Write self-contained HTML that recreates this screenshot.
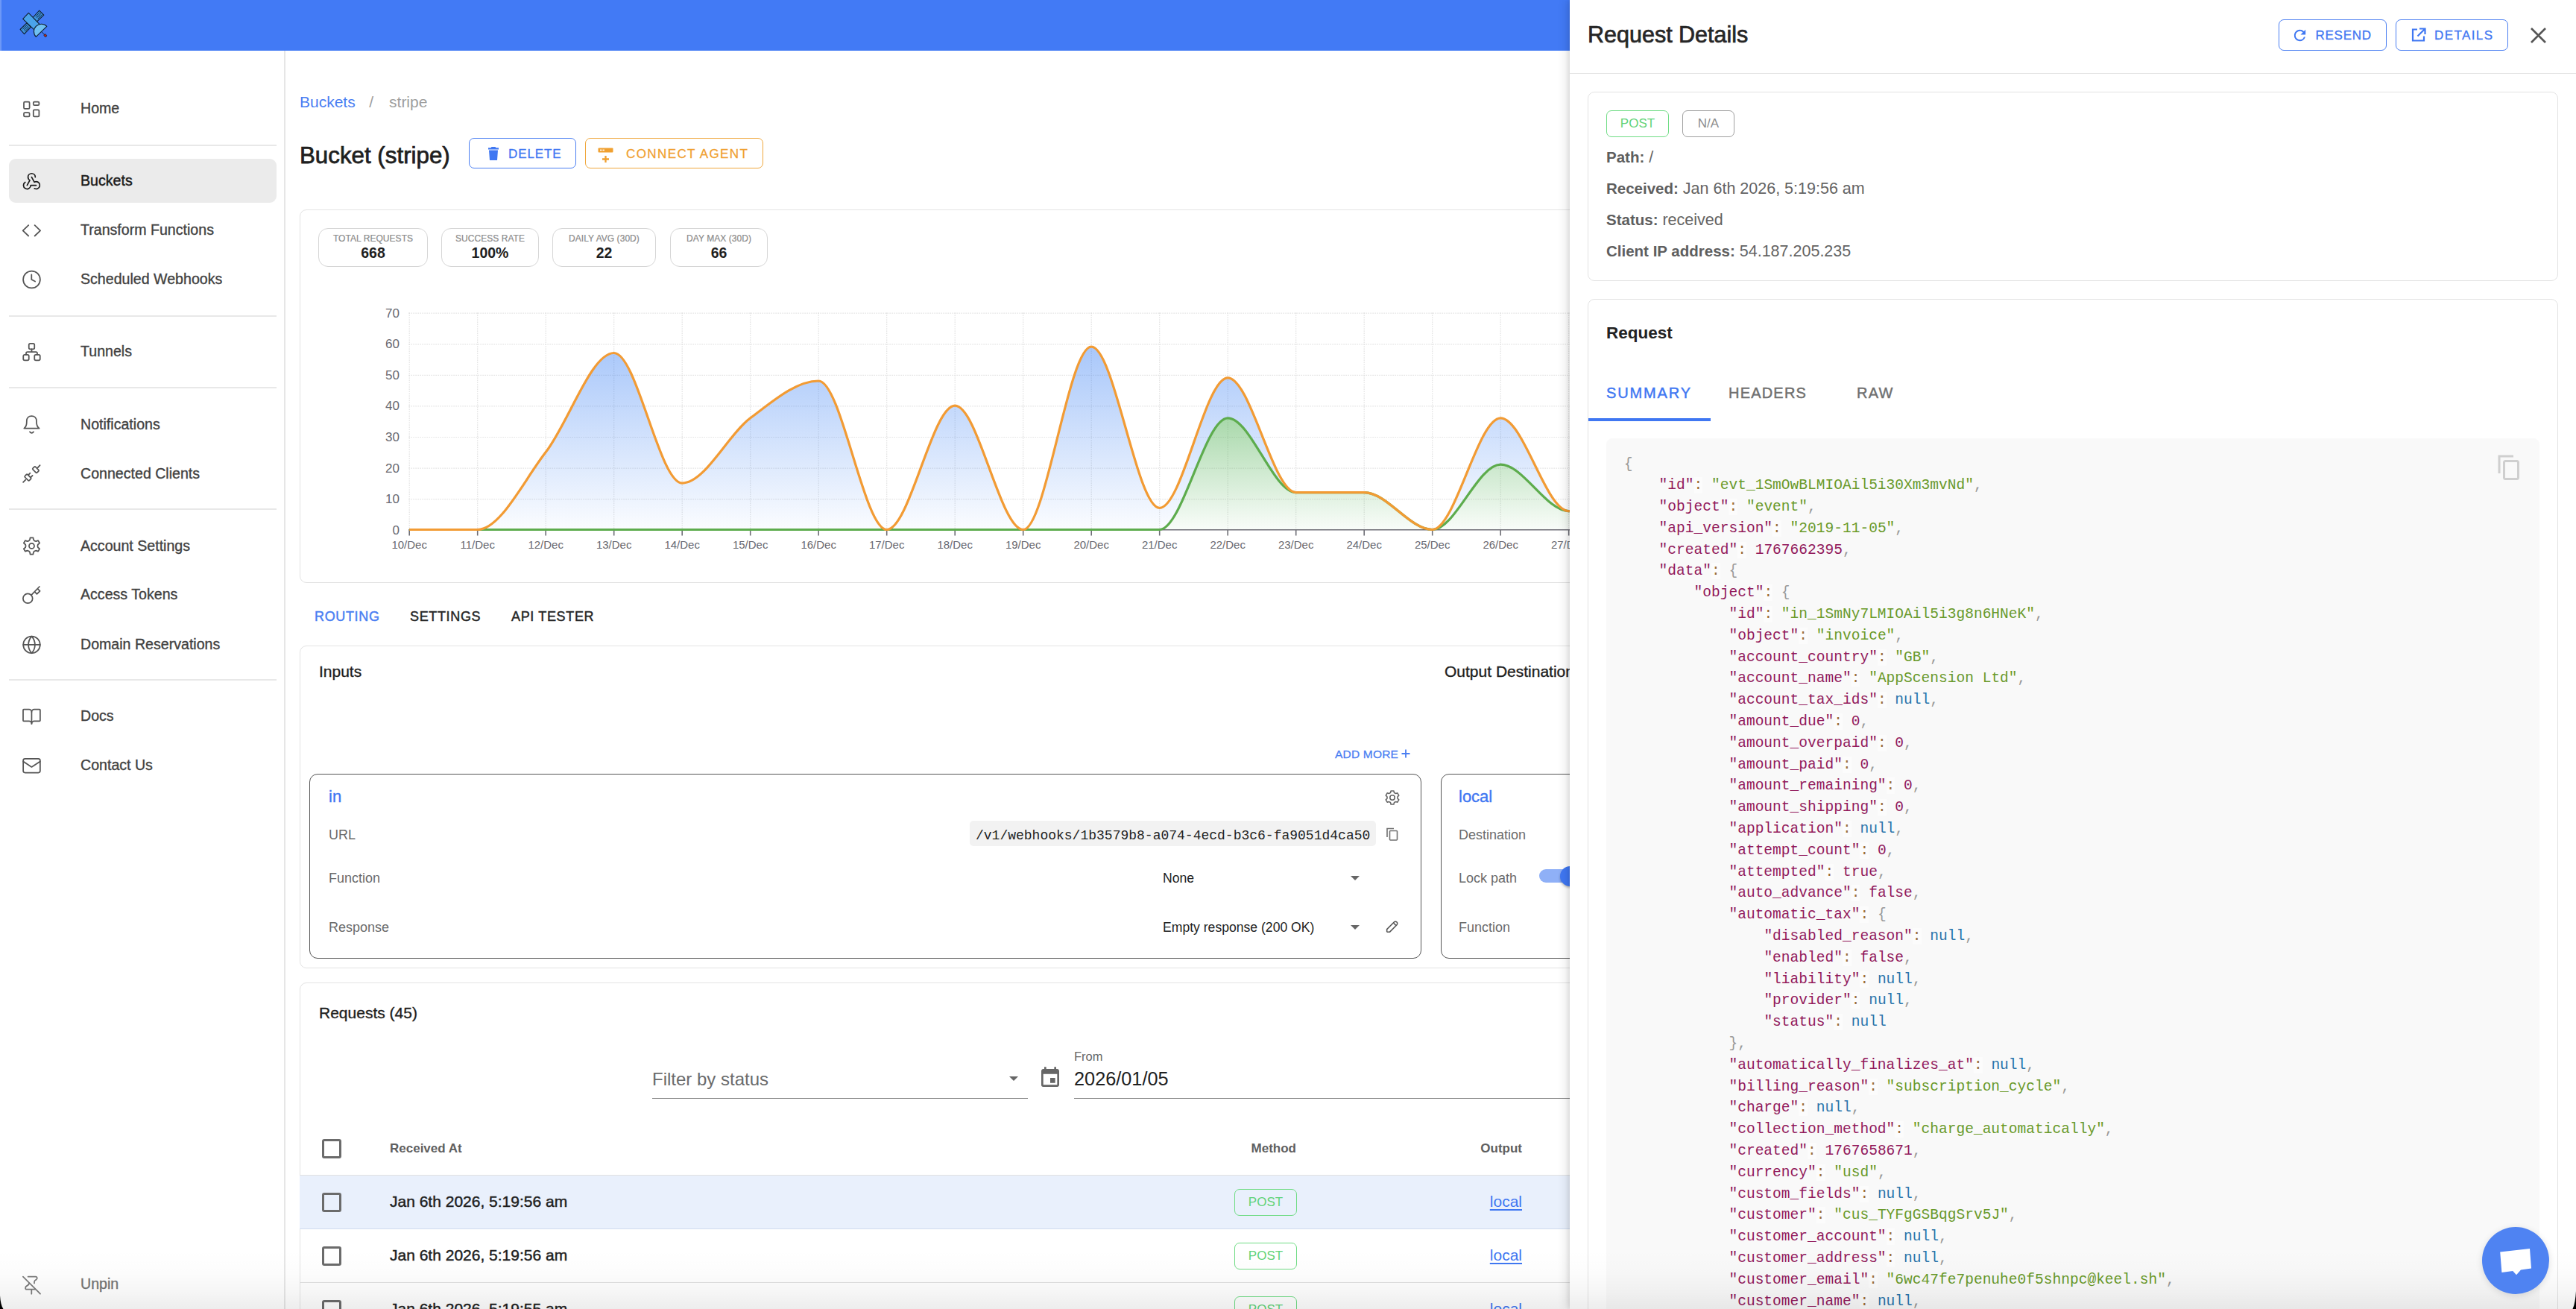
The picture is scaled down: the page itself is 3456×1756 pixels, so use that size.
<!DOCTYPE html>
<html><head><meta charset="utf-8">
<style>
*{box-sizing:border-box;margin:0;padding:0}
html,body{width:3456px;height:1756px;overflow:hidden;background:#fff}
body{font-family:"Liberation Sans",sans-serif;color:#212121;position:relative}
.abs{position:absolute}
#topbar{position:absolute;left:0;top:0;width:2110px;height:68px;background:#427af5}
#topbar .edge{position:absolute;left:0;top:0;width:2px;height:68px;background:#6d98f7}
#sidebar{position:absolute;left:0;top:68px;width:383px;height:1688px;background:#fff;border-right:2px solid #e6e6e6}
.nav{position:absolute;left:12px;width:359px;height:59px;border-radius:9px;font-size:19.6px;color:#424242;white-space:nowrap}
.nav.sel{background:#ebebeb}
.nav svg{position:absolute;left:10px;top:9.5px;width:40px;height:40px;fill:none;stroke:#555;stroke-width:1.75;stroke-linecap:round;stroke-linejoin:round}
.nav svg g{stroke-width:1.4}
.nav span{position:absolute;left:96px;top:-0.7px;line-height:59px;-webkit-text-stroke:0.35px currentColor}
.nav.sel{color:#1c1c1c}.nav.sel svg{stroke:#1a1a1a}.nav.sel span{-webkit-text-stroke:0.45px currentColor}
.div{position:absolute;left:12px;width:359px;height:2px;background:#e8e8e8}

.btn{border:1.5px solid;border-radius:7px;font-size:17px;letter-spacing:1px;white-space:nowrap;-webkit-text-stroke:0.3px currentColor}
.card{border:1.5px solid #e3e3e3;border-radius:9px;background:#fff}
.stat{height:52px;border:1.5px solid #d6d6d6;border-radius:13px;text-align:center}
.stat .sl{font-size:12px;line-height:14px;margin-top:6px;color:#8a8a8a;letter-spacing:0.05px;white-space:nowrap;-webkit-text-stroke:0.2px #8a8a8a}
.stat .sv{font-size:19.5px;line-height:22px;font-weight:bold;color:#1f1f1f;margin-top:1px}
.tab{font-size:18px;line-height:22px;letter-spacing:0.65px;color:#262626;white-space:nowrap;-webkit-text-stroke:0.45px currentColor}
.h5{font-size:21px;line-height:24px;color:#1f1f1f;white-space:nowrap;-webkit-text-stroke:0.35px #1f1f1f}
.ibox{border:1.5px solid #555;border-radius:11px;background:#fff;overflow:hidden}
.lbl{font-size:18px;line-height:22px;color:#6b6b6b;white-space:nowrap}
.val{font-size:17.6px;line-height:22px;color:#222;white-space:nowrap}
.mono{font-family:"Liberation Mono",monospace;font-size:18px;line-height:22px;color:#222;white-space:nowrap}
.caret{width:0;height:0;border-left:6px solid transparent;border-right:6px solid transparent;border-top:6px solid #666}
.cb{width:26px;height:26px;border:3px solid #6b6b6b;border-radius:3px}
.th{font-size:17px;line-height:20px;font-weight:bold;color:#5f5f5f;white-space:nowrap}
.td{font-size:21px;line-height:24px;color:#1f1f1f;white-space:nowrap;-webkit-text-stroke:0.45px #1f1f1f}
.chip{width:84px;height:36px;border:1.5px solid #6fdc84;border-radius:7px;color:#5fd377;font-size:17px;line-height:33px;text-align:center}
.lnk{width:142px;text-align:right;font-size:21px;line-height:24px;color:#3f77f2;text-decoration:underline;text-underline-offset:3px}

#drawer{position:absolute;left:2106px;top:0;width:1350px;height:1756px;background:#fff;box-shadow:-5px 0 12px rgba(0,0,0,0.10),-2px 0 5px rgba(0,0,0,0.07)}
.info{font-size:21.5px;line-height:26px;color:#646464;white-space:nowrap}
.info b{color:#5e5e5e;font-size:20.5px}
.dtab{font-size:20px;line-height:24px;letter-spacing:1.2px;color:#707070;white-space:nowrap;-webkit-text-stroke:0.45px currentColor}
#codebg{background:#f9f9f9}
.code{font-family:"Liberation Mono",monospace;font-size:19.56px;line-height:28.8px;color:#000;white-space:pre}
.code i{font-style:normal}
.code .p{color:#999}.code .k{color:#921a5c}.code .s{color:#6a9a2a}.code .n{color:#921a5c}.code .u{color:#2a74aa}
.code .o{color:#9a6e3a;background:rgba(255,255,255,.5)}
#fade{position:absolute;left:0;top:1676px;width:3456px;height:80px;background:linear-gradient(to bottom,rgba(0,0,0,0) 0%,rgba(0,0,0,0.012) 40%,rgba(0,0,0,0.035) 70%,rgba(0,0,0,0.07) 100%);pointer-events:none}
</style></head>
<body>
<div id="topbar"><div class="edge"></div>
<svg class="abs" style="left:20px;top:8px" width="50" height="50" viewBox="0 0 50 50">
 <g stroke="#0f1e2e" stroke-width="1.1" stroke-linejoin="round">
  <polygon points="32.7,6.1 38.8,12.2 29.4,21.1 24.1,15.5" fill="#3f93dd"/>
  <polygon points="15.9,22.9 21.4,28.3 12.6,37.6 7.1,31.5" fill="#3f93dd"/>
  <g stroke-width="0.9" stroke="#0b1622"><path d="M27.8,14.3 L33.6,8.6 M29.3,15.8 L35.1,10.1 M30.8,17.3 L36.6,11.6" /><path d="M10.6,31.0 L16.4,25.3 M12.1,32.5 L17.9,26.8 M13.6,34.0 L19.4,28.3"/></g>
  <polygon points="18.3,9.4 10.7,17.4 26,32.2 33.2,24.6" fill="#4aa3ea"/>
  <path d="M28.3,41.4 L42.8,27.3 A10.1,10.1 0 0 0 28.3,41.4 Z" fill="#6fc0f2"/>
  <path d="M35.5,34.4 L40.6,39.4" stroke-width="0.9"/>
  <ellipse cx="40.8" cy="39.6" rx="2" ry="1.6" transform="rotate(45 40.8 39.6)" fill="#b8281c" stroke-width="0.7"/>
 </g>
</svg>
</div>

<div id="sidebar">
 <!-- items: top positions are relative to sidebar (page y - 68) -->
 <div class="nav" style="top:49px"><svg viewBox="0 0 40 40"><rect x="10" y="9.6" width="7.6" height="9.3" rx="1.4"/><rect x="10" y="24" width="7.6" height="5.3" rx="1.4"/><rect x="22.8" y="9.6" width="7.6" height="4.6" rx="1.4"/><rect x="22.8" y="20.3" width="7.6" height="9" rx="1.4"/></svg><span>Home</span></div>
 <div class="div" style="top:125.5px"></div>
 <div class="nav sel" style="top:145.4px"><svg viewBox="0 0 40 40"><g transform="translate(20.45 20.1) scale(1.22) translate(-12 -12.5)"><path d="M4.876 13.61a4 4 0 1 0 6.124 3.39h6"/><path d="M15.066 20.502a4 4 0 1 0 1.934 -7.502c-.706 0 -1.424 .179 -2 .5l-3 -5.5"/><path d="M16 8a4 4 0 1 0 -8 0c0 1.506 .77 2.818 2 3.5l-3 5.5"/></g></svg><span>Buckets</span></div>
 <div class="nav" style="top:211.6px"><svg viewBox="0 0 40 40"><path d="M16.2 13.1L8.7 20.3L16.2 27.5M24.6 13.1L32.1 20.3L24.6 27.5"/></svg><span>Transform Functions</span></div>
 <div class="nav" style="top:277.7px"><svg viewBox="0 0 40 40"><circle cx="20.5" cy="20" r="11.4"/><path d="M20.3 13.3V20l4.8 2.6"/></svg><span>Scheduled Webhooks</span></div>
 <div class="div" style="top:354.5px"></div>
 <div class="nav" style="top:374.7px"><svg viewBox="0 0 40 40"><g transform="translate(20.5 20) scale(1.25) translate(-12 -12)"><path d="M3 15m0 1.5a1.5 1.5 0 0 1 1.5 -1.5h3a1.5 1.5 0 0 1 1.5 1.5v3a1.5 1.5 0 0 1 -1.5 1.5h-3a1.5 1.5 0 0 1 -1.5 -1.5z"/><path d="M15 15m0 1.5a1.5 1.5 0 0 1 1.5 -1.5h3a1.5 1.5 0 0 1 1.5 1.5v3a1.5 1.5 0 0 1 -1.5 1.5h-3a1.5 1.5 0 0 1 -1.5 -1.5z"/><path d="M9 3m0 1.5a1.5 1.5 0 0 1 1.5 -1.5h3a1.5 1.5 0 0 1 1.5 1.5v3a1.5 1.5 0 0 1 -1.5 1.5h-3a1.5 1.5 0 0 1 -1.5 -1.5z"/><path d="M6 15v-1.5a1.5 1.5 0 0 1 1.5 -1.5h9a1.5 1.5 0 0 1 1.5 1.5v1.5"/><path d="M12 9l0 3"/></g></svg><span>Tunnels</span></div>
 <div class="div" style="top:451.2px"></div>
 <div class="nav" style="top:472.2px"><svg viewBox="0 0 40 40"><path d="M10.3 24.6C12.8 22.6 13.8 19.8 13.8 16.2V14.8C13.8 10.6 16.6 8 20.4 8C24.2 8 27 10.6 27 14.8V16.2C27 19.8 28 22.6 30.6 24.6Z"/><path d="M18 29.3C19.4 31.3 21.6 31.3 23 29.3"/></svg><span>Notifications</span></div>
 <div class="nav" style="top:538.3px"><svg viewBox="0 0 40 40"><rect x="-4" y="-2.5" width="8" height="5" rx="1.2" transform="translate(25.9 14.1) rotate(45)"/><path d="M28.6 11.4L31.6 8.1"/><rect x="-4.2" y="-2.5" width="8.4" height="5" rx="1.2" transform="translate(15.4 24.6) rotate(45)"/><path d="M12.3 27.6L9.1 30.9M15.9 21.3L18.4 18.6M19.1 24.6L21.6 21.9"/></svg><span>Connected Clients</span></div>
 <div class="div" style="top:614.3px"></div>
 <div class="nav" style="top:635.4px"><svg viewBox="0 0 40 40"><path d="M16.55 12.56 L17.99 11.18 L18.54 8.27 L22.46 8.27 L23.01 11.18 L24.45 12.56 L26.37 13.11 L29.16 12.14 L31.12 15.54 L28.88 17.47 L28.40 19.40 L28.88 21.33 L31.12 23.26 L29.16 26.66 L26.37 25.69 L24.45 26.24 L23.01 27.62 L22.46 30.53 L18.54 30.53 L17.99 27.62 L16.55 26.24 L14.63 25.69 L11.84 26.66 L9.88 23.26 L12.12 21.33 L12.60 19.40 L12.12 17.47 L9.88 15.54 L11.84 12.14 L14.63 13.11Z"/><circle cx="20.5" cy="19.4" r="3.5"/></svg><span>Account Settings</span></div>
 <div class="nav" style="top:701.1px"><svg viewBox="0 0 40 40"><circle cx="15.3" cy="23.8" r="6.4"/><path d="M19.9 19.3L30.9 8M24.5 14.8L27.5 17.9L31.6 13.8L28.5 10.8"/></svg><span>Access Tokens</span></div>
 <div class="nav" style="top:767.2px"><svg viewBox="0 0 40 40"><circle cx="20.5" cy="19.9" r="11.3"/><path d="M9.2 19.9H31.8"/><path d="M20.5 8.6C18 11.5 16.1 15.2 16.1 19.9C16.1 24.6 18 28.3 20.5 31.2C23 28.3 24.9 24.6 24.9 19.9C24.9 15.2 23 11.5 20.5 8.6Z"/></svg><span>Domain Reservations</span></div>
 <div class="div" style="top:842.9px"></div>
 <div class="nav" style="top:864.1px"><svg viewBox="0 0 40 40"><g transform="translate(20.45 9.6) scale(0.11) translate(-128 -56)" style="stroke-width:15.5"><path d="M128,88a32,32,0,0,1,32-32h64a8,8,0,0,1,8,8V192a8,8,0,0,1-8,8H160a32,32,0,0,0-32,32"/><path d="M24,192a8,8,0,0,0,8,8H96a32,32,0,0,1,32,32V88A32,32,0,0,0,96,56H32a8,8,0,0,0-8,8Z"/></g></svg><span>Docs</span></div>
 <div class="nav" style="top:929.8px"><svg viewBox="0 0 40 40"><rect x="9.15" y="10.8" width="22.7" height="18.7" rx="2.4"/><path d="M9.2 14.6L20.4 21.9L31.8 14.6"/></svg><span>Contact Us</span></div>
 <div class="nav" style="top:1626px;color:#757575"><svg viewBox="0 0 40 40" style="stroke:#7a7a7a"><path d="M8.9 8.6L32 31.7M15.6 8.7H26C27.8 8.7 28.4 11 27 12.2L24.8 13.9C24.2 14.4 24 15.2 24 16V17.4M17.1 17.1C17 19.3 15.5 20.3 13.8 21.1C11.8 22.1 11.3 25.7 13.8 25.7H25.3M20.3 25.7V31.7"/></svg><span>Unpin</span></div>
</div>

<div id="main">
 <!-- breadcrumb -->
 <div class="abs" style="left:402px;top:123px;font-size:21px;line-height:28px;white-space:nowrap"><span style="color:#4a7ef2">Buckets</span><span style="color:#9e9e9e;margin-left:18.5px">/</span><span style="color:#9e9e9e;margin-left:21px">stripe</span></div>
 <div class="abs" style="left:402px;top:190px;font-size:31.3px;line-height:38px;color:#1f1f1f;white-space:nowrap;-webkit-text-stroke:0.75px #1f1f1f">Bucket (stripe)</div>
 <div class="abs btn" style="left:629px;top:185px;width:144px;height:41px;border-color:#4a7ef2;color:#3f77f2">
  <svg class="abs" style="left:25px;top:11px" width="14" height="18" viewBox="0 0 14 18"><path d="M4.5 0h5l1 1.2H14v2.3H0V1.2h3.5z M1 4.6h12L12 18H2z" fill="#3f77f2"/></svg>
  <span class="abs" style="left:52px;top:0;line-height:41px;letter-spacing:0.9px">DELETE</span></div>
 <div class="abs btn" style="left:785px;top:185px;width:239px;height:41px;border-color:#f0a73c;color:#f0a030">
  <svg class="abs" style="left:16px;top:12px" width="22" height="21" viewBox="0 0 22 21"><rect x="0.5" y="0.5" width="20" height="6" rx="1" fill="#f0a030"/><rect x="3" y="2.6" width="2.4" height="1.6" fill="#fff"/><rect x="6.5" y="2.6" width="2.4" height="1.6" fill="#fff"/><path d="M10.5 11v9M6 15.5h9" stroke="#f0a030" stroke-width="2.3"/></svg>
  <span class="abs" style="left:54px;top:0;line-height:41px;letter-spacing:1.4px">CONNECT AGENT</span></div>

 <!-- stats card -->
 <div class="abs card" style="left:402px;top:281px;width:1800px;height:501px"></div>
 <div class="abs stat" style="left:427px;top:306px;width:147px"><div class="sl">TOTAL REQUESTS</div><div class="sv">668</div></div>
 <div class="abs stat" style="left:592px;top:306px;width:131px"><div class="sl">SUCCESS RATE</div><div class="sv">100%</div></div>
 <div class="abs stat" style="left:741px;top:306px;width:139px"><div class="sl">DAILY AVG (30D)</div><div class="sv">22</div></div>
 <div class="abs stat" style="left:899px;top:306px;width:131px"><div class="sl">DAY MAX (30D)</div><div class="sv">66</div></div>
 <svg class="abs" style="left:0;top:0" width="2110" height="800" viewBox="0 0 2110 800">
<defs><linearGradient id="gb" gradientUnits="userSpaceOnUse" x1="0" y1="430" x2="0" y2="712"><stop offset="0" stop-color="#4285f4" stop-opacity="0.52"/><stop offset="1" stop-color="#4285f4" stop-opacity="0.02"/></linearGradient>
<linearGradient id="gg" gradientUnits="userSpaceOnUse" x1="0" y1="555" x2="0" y2="712"><stop offset="0" stop-color="#4caf50" stop-opacity="0.5"/><stop offset="1" stop-color="#4caf50" stop-opacity="0.03"/></linearGradient></defs>
<g stroke="#d9d9d9" stroke-width="1.2" stroke-dasharray="1.2 1.8" fill="none">
<path d="M548.5,420.2H2110"/>
<path d="M548.5,461.8H2110"/>
<path d="M548.5,503.3H2110"/>
<path d="M548.5,544.9H2110"/>
<path d="M548.5,586.5H2110"/>
<path d="M548.5,628.1H2110"/>
<path d="M548.5,669.6H2110"/>
<path d="M549.2,419.5V710"/>
<path d="M640.7,419.5V710"/>
<path d="M732.2,419.5V710"/>
<path d="M823.7,419.5V710"/>
<path d="M915.2,419.5V710"/>
<path d="M1006.7,419.5V710"/>
<path d="M1098.2,419.5V710"/>
<path d="M1189.7,419.5V710"/>
<path d="M1281.2,419.5V710"/>
<path d="M1372.7,419.5V710"/>
<path d="M1464.2,419.5V710"/>
<path d="M1555.7,419.5V710"/>
<path d="M1647.2,419.5V710"/>
<path d="M1738.7,419.5V710"/>
<path d="M1830.2,419.5V710"/>
<path d="M1921.7,419.5V710"/>
<path d="M2013.2,419.5V710"/>
<path d="M2104.7,419.5V710"/>
</g>
<path d="M549.2,710.5C579.7,710.5 610.2,710.5 640.7,710.5C671.2,710.5 701.7,646.1 732.2,606.6C762.7,567.1 793.2,473.5 823.7,473.5C854.2,473.5 884.7,648.1 915.2,648.1C945.7,648.1 976.2,583.7 1006.7,560.8C1037.2,538.0 1067.7,511.0 1098.2,511.0C1128.7,511.0 1159.2,710.5 1189.7,710.5C1220.2,710.5 1250.7,544.2 1281.2,544.2C1311.7,544.2 1342.2,710.5 1372.7,710.5C1403.2,710.5 1433.7,465.2 1464.2,465.2C1494.7,465.2 1525.2,681.4 1555.7,681.4C1586.2,681.4 1616.7,506.8 1647.2,506.8C1677.7,506.8 1708.2,660.6 1738.7,660.6C1769.2,660.6 1799.7,660.6 1830.2,660.6C1860.7,660.6 1891.2,710.5 1921.7,710.5C1952.2,710.5 1982.7,560.8 2013.2,560.8C2043.7,560.8 2074.2,685.6 2104.7,685.6C2135.2,685.6 2165.7,674.5 2196.2,668.9C2226.7,663.4 2257.2,657.8 2287.7,652.3L2287.7,652.3C2257.2,657.8 2226.7,663.4 2196.2,668.9C2165.7,674.5 2135.2,685.6 2104.7,685.6C2074.2,685.6 2043.7,623.2 2013.2,623.2C1982.7,623.2 1952.2,710.5 1921.7,710.5C1891.2,710.5 1860.7,660.6 1830.2,660.6C1799.7,660.6 1769.2,660.6 1738.7,660.6C1708.2,660.6 1677.7,560.8 1647.2,560.8C1616.7,560.8 1586.2,710.5 1555.7,710.5C1525.2,710.5 1494.7,710.5 1464.2,710.5C1433.7,710.5 1403.2,710.5 1372.7,710.5C1342.2,710.5 1311.7,710.5 1281.2,710.5C1250.7,710.5 1220.2,710.5 1189.7,710.5C1159.2,710.5 1128.7,710.5 1098.2,710.5C1067.7,710.5 1037.2,710.5 1006.7,710.5C976.2,710.5 945.7,710.5 915.2,710.5C884.7,710.5 854.2,710.5 823.7,710.5C793.2,710.5 762.7,710.5 732.2,710.5C701.7,710.5 671.2,710.5 640.7,710.5C610.2,710.5 579.7,710.5 549.2,710.5Z" fill="url(#gb)"/>
<path d="M549.2,710.5C579.7,710.5 610.2,710.5 640.7,710.5C671.2,710.5 701.7,710.5 732.2,710.5C762.7,710.5 793.2,710.5 823.7,710.5C854.2,710.5 884.7,710.5 915.2,710.5C945.7,710.5 976.2,710.5 1006.7,710.5C1037.2,710.5 1067.7,710.5 1098.2,710.5C1128.7,710.5 1159.2,710.5 1189.7,710.5C1220.2,710.5 1250.7,710.5 1281.2,710.5C1311.7,710.5 1342.2,710.5 1372.7,710.5C1403.2,710.5 1433.7,710.5 1464.2,710.5C1494.7,710.5 1525.2,710.5 1555.7,710.5C1586.2,710.5 1616.7,560.8 1647.2,560.8C1677.7,560.8 1708.2,660.6 1738.7,660.6C1769.2,660.6 1799.7,660.6 1830.2,660.6C1860.7,660.6 1891.2,710.5 1921.7,710.5C1952.2,710.5 1982.7,623.2 2013.2,623.2C2043.7,623.2 2074.2,685.6 2104.7,685.6C2135.2,685.6 2165.7,674.5 2196.2,668.9C2226.7,663.4 2257.2,657.8 2287.7,652.3L2287.7,710.5L549.2,710.5Z" fill="url(#gg)"/>
<path d="M548.5,710.8H2110" stroke="#6e6e76" stroke-width="1.6"/>
<g stroke="#6e6e76" stroke-width="1.6">
<path d="M549.2,710V718.5"/>
<path d="M640.7,710V718.5"/>
<path d="M732.2,710V718.5"/>
<path d="M823.7,710V718.5"/>
<path d="M915.2,710V718.5"/>
<path d="M1006.7,710V718.5"/>
<path d="M1098.2,710V718.5"/>
<path d="M1189.7,710V718.5"/>
<path d="M1281.2,710V718.5"/>
<path d="M1372.7,710V718.5"/>
<path d="M1464.2,710V718.5"/>
<path d="M1555.7,710V718.5"/>
<path d="M1647.2,710V718.5"/>
<path d="M1738.7,710V718.5"/>
<path d="M1830.2,710V718.5"/>
<path d="M1921.7,710V718.5"/>
<path d="M2013.2,710V718.5"/>
<path d="M2104.7,710V718.5"/>
</g>
<path d="M549.2,710.5C579.7,710.5 610.2,710.5 640.7,710.5C671.2,710.5 701.7,710.5 732.2,710.5C762.7,710.5 793.2,710.5 823.7,710.5C854.2,710.5 884.7,710.5 915.2,710.5C945.7,710.5 976.2,710.5 1006.7,710.5C1037.2,710.5 1067.7,710.5 1098.2,710.5C1128.7,710.5 1159.2,710.5 1189.7,710.5C1220.2,710.5 1250.7,710.5 1281.2,710.5C1311.7,710.5 1342.2,710.5 1372.7,710.5C1403.2,710.5 1433.7,710.5 1464.2,710.5C1494.7,710.5 1525.2,710.5 1555.7,710.5C1586.2,710.5 1616.7,560.8 1647.2,560.8C1677.7,560.8 1708.2,660.6 1738.7,660.6C1769.2,660.6 1799.7,660.6 1830.2,660.6C1860.7,660.6 1891.2,710.5 1921.7,710.5C1952.2,710.5 1982.7,623.2 2013.2,623.2C2043.7,623.2 2074.2,685.6 2104.7,685.6C2135.2,685.6 2165.7,674.5 2196.2,668.9C2226.7,663.4 2257.2,657.8 2287.7,652.3" fill="none" stroke="#5dac4d" stroke-width="3.2" stroke-linejoin="round"/>
<path d="M549.2,710.5C579.7,710.5 610.2,710.5 640.7,710.5C671.2,710.5 701.7,646.1 732.2,606.6C762.7,567.1 793.2,473.5 823.7,473.5C854.2,473.5 884.7,648.1 915.2,648.1C945.7,648.1 976.2,583.7 1006.7,560.8C1037.2,538.0 1067.7,511.0 1098.2,511.0C1128.7,511.0 1159.2,710.5 1189.7,710.5C1220.2,710.5 1250.7,544.2 1281.2,544.2C1311.7,544.2 1342.2,710.5 1372.7,710.5C1403.2,710.5 1433.7,465.2 1464.2,465.2C1494.7,465.2 1525.2,681.4 1555.7,681.4C1586.2,681.4 1616.7,506.8 1647.2,506.8C1677.7,506.8 1708.2,660.6 1738.7,660.6C1769.2,660.6 1799.7,660.6 1830.2,660.6C1860.7,660.6 1891.2,710.5 1921.7,710.5C1952.2,710.5 1982.7,560.8 2013.2,560.8C2043.7,560.8 2074.2,685.6 2104.7,685.6C2135.2,685.6 2165.7,674.5 2196.2,668.9C2226.7,663.4 2257.2,657.8 2287.7,652.3" fill="none" stroke="#f29b34" stroke-width="3.2" stroke-linejoin="round"/>
<g font-family="Liberation Sans, sans-serif" font-size="17" fill="#686870" text-anchor="end">
<text x="536" y="425.6">70</text>
<text x="536" y="467.2">60</text>
<text x="536" y="508.7">50</text>
<text x="536" y="550.3">40</text>
<text x="536" y="591.9">30</text>
<text x="536" y="633.5">20</text>
<text x="536" y="675.0">10</text>
<text x="536" y="716.6">0</text>
</g><g font-family="Liberation Sans, sans-serif" font-size="15" fill="#686870" text-anchor="middle">
<text x="549.2" y="735.5">10/Dec</text>
<text x="640.7" y="735.5">11/Dec</text>
<text x="732.2" y="735.5">12/Dec</text>
<text x="823.7" y="735.5">13/Dec</text>
<text x="915.2" y="735.5">14/Dec</text>
<text x="1006.7" y="735.5">15/Dec</text>
<text x="1098.2" y="735.5">16/Dec</text>
<text x="1189.7" y="735.5">17/Dec</text>
<text x="1281.2" y="735.5">18/Dec</text>
<text x="1372.7" y="735.5">19/Dec</text>
<text x="1464.2" y="735.5">20/Dec</text>
<text x="1555.7" y="735.5">21/Dec</text>
<text x="1647.2" y="735.5">22/Dec</text>
<text x="1738.7" y="735.5">23/Dec</text>
<text x="1830.2" y="735.5">24/Dec</text>
<text x="1921.7" y="735.5">25/Dec</text>
<text x="2013.2" y="735.5">26/Dec</text>
<text x="2104.7" y="735.5">27/Dec</text>
</g>
</svg>

 <!-- tabs -->
 <div class="abs tab" style="left:422px;top:816px;color:#4a7ef2">ROUTING</div>
 <div class="abs tab" style="left:550px;top:816px">SETTINGS</div>
 <div class="abs tab" style="left:686px;top:816px">API TESTER</div>

 <!-- routing card -->
 <div class="abs card" style="left:402px;top:866px;width:1800px;height:433px"></div>
 <div class="abs h5" style="left:428px;top:889px">Inputs</div>
 <div class="abs h5" style="left:1938px;top:888.5px">Output Destination</div>
 <div class="abs" style="left:1791px;top:1002px;font-size:15.5px;line-height:20px;letter-spacing:0.2px;color:#4a7ef2;white-space:nowrap;-webkit-text-stroke:0.3px #4a7ef2">ADD MORE</div>
 <svg class="abs" style="left:1880px;top:1005px" width="12" height="12" viewBox="0 0 12 12"><path d="M6 0.5v11M0.5 6h11" stroke="#4a7ef2" stroke-width="1.8"/></svg>
 <div class="abs ibox" style="left:415px;top:1038px;width:1492px;height:248px">
  <div class="abs" style="left:25px;top:14.5px;font-size:22px;line-height:30px;color:#3f77f2;-webkit-text-stroke:0.35px #3f77f2">in</div>
  <div class="abs lbl" style="left:25px;top:70px">URL</div>
  <div class="abs lbl" style="left:25px;top:128px">Function</div>
  <div class="abs lbl" style="left:25px;top:194px">Response</div>
  <div class="abs" style="left:885px;top:62px;width:545px;height:34px;background:#f2f2f2;border-radius:5px"></div>
  <div class="abs mono" style="left:893px;top:71px">/v1/webhooks/1b3579b8-a074-4ecd-b3c6-fa9051d4ca50</div>
  <svg class="abs" style="left:1439.5px;top:18.5px" width="24" height="24" viewBox="0 0 24 24" fill="none" stroke="#666" stroke-width="1.6" stroke-linejoin="round"><path d="M8.55 6.02 L9.62 5.10 L10.09 3.00 L13.91 3.00 L14.38 5.10 L15.45 6.02 L16.79 6.49 L18.84 5.84 L20.75 9.16 L19.17 10.61 L18.90 12.00 L19.17 13.39 L20.75 14.84 L18.84 18.16 L16.79 17.51 L15.45 17.98 L14.38 18.90 L13.91 21.00 L10.09 21.00 L9.62 18.90 L8.55 17.98 L7.21 17.51 L5.16 18.16 L3.25 14.84 L4.83 13.39 L5.10 12.00 L4.83 10.61 L3.25 9.16 L5.16 5.84 L7.21 6.49Z"/><circle cx="12" cy="12" r="3.2"/></svg>
  <svg class="abs" style="left:1444px;top:71px" width="17" height="18" viewBox="0 0 17 18" fill="none" stroke="#707070" stroke-width="1.6"><path d="M1 13V1.5h9"/><rect x="4.5" y="4.5" width="10" height="12.5" rx="1"/></svg>
  <div class="abs val" style="left:1144px;top:128px">None</div>
  <div class="abs caret" style="left:1396px;top:136px"></div>
  <div class="abs val" style="left:1144px;top:194px">Empty response (200 OK)</div>
  <div class="abs caret" style="left:1396px;top:202px"></div>
  <svg class="abs" style="left:1441px;top:193px" width="22" height="22" viewBox="0 0 24 24" fill="none" stroke="#555" stroke-width="1.7" stroke-linejoin="round"><path d="M4 20h4l10.5 -10.5a2.828 2.828 0 1 0 -4 -4l-10.5 10.5v4"/><path d="M13.5 6.5l4 4"/></svg>
 </div>
 <div class="abs ibox" style="left:1933px;top:1038px;width:300px;height:248px">
  <div class="abs" style="left:23px;top:14.5px;font-size:22px;line-height:30px;color:#3f77f2;-webkit-text-stroke:0.35px #3f77f2">local</div>
  <div class="abs lbl" style="left:23px;top:70px">Destination</div>
  <div class="abs lbl" style="left:23px;top:128px">Lock path</div>
  <div class="abs lbl" style="left:23px;top:194px">Function</div>
  <div class="abs" style="left:131px;top:126.5px;width:42px;height:18px;border-radius:9px;background:#8fb0f7"></div>
  <div class="abs" style="left:158.5px;top:122.5px;width:27px;height:27px;border-radius:50%;background:#3f77f2;box-shadow:0 2px 3px rgba(0,0,0,0.25)"></div>
 </div>

 <!-- requests card -->
 <div class="abs card" style="left:402px;top:1318px;width:1800px;height:500px"></div>
 <div class="abs h5" style="left:428px;top:1347px">Requests (45)</div>
 <div class="abs" style="left:875px;top:1433.5px;font-size:24px;line-height:28px;color:#6b6b6b;white-space:nowrap">Filter by status</div>
 <div class="abs" style="left:875px;top:1473px;width:504px;height:1.4px;background:#8a8a8a"></div>
 <div class="abs caret" style="left:1354px;top:1444px"></div>
 <svg class="abs" style="left:1393px;top:1430px" width="32" height="32" viewBox="0 0 24 24"><path d="M17 12h-5v5h5v-5zM16 1v2H8V1H6v2H5c-1.11 0-1.99.9-1.99 2L3 19a2 2 0 0 0 2 2h14c1.1 0 2-.9 2-2V5c0-1.1-.9-2-2-2h-1V1h-2zm3 18H5V8h14v11z" fill="#666"/></svg>
 <div class="abs" style="left:1441px;top:1407px;font-size:16.5px;line-height:20px;color:#666">From</div>
 <div class="abs" style="left:1441px;top:1433px;font-size:25.3px;line-height:28px;color:#212121">2026/01/05</div>
 <div class="abs" style="left:1441px;top:1473px;width:700px;height:1.4px;background:#8a8a8a"></div>

 <div class="abs cb" style="left:432px;top:1528px"></div>
 <div class="abs th" style="left:523px;top:1531px">Received At</div>
 <div class="abs th" style="left:1600px;top:1531px;width:139px;text-align:right">Method</div>
 <div class="abs th" style="left:1900px;top:1531px;width:142px;text-align:right">Output</div>
 <div class="abs" style="left:402px;top:1575.5px;width:1800px;height:1.5px;background:#e0e0e0"></div>

 <div class="abs" style="left:402px;top:1577px;width:1800px;height:72px;background:#e9f0fc;border-bottom:1.5px solid #cfdbef"></div>
 <div class="abs cb" style="left:432px;top:1600px"></div>
 <div class="abs td" style="left:523px;top:1600px">Jan 6th 2026, 5:19:56 am</div>
 <div class="abs chip" style="left:1656px;top:1595px">POST</div>
 <div class="abs lnk" style="left:1900px;top:1600px">local</div>

 <div class="abs" style="left:402px;top:1648px;width:1800px;height:73px;border-bottom:1.5px solid #e0e0e0"></div>
 <div class="abs cb" style="left:432px;top:1672px"></div>
 <div class="abs td" style="left:523px;top:1672px">Jan 6th 2026, 5:19:56 am</div>
 <div class="abs chip" style="left:1656px;top:1667px">POST</div>
 <div class="abs lnk" style="left:1900px;top:1672px">local</div>

 <div class="abs cb" style="left:432px;top:1744px"></div>
 <div class="abs td" style="left:523px;top:1744px">Jan 6th 2026, 5:19:55 am</div>
 <div class="abs chip" style="left:1656px;top:1739px">POST</div>
 <div class="abs lnk" style="left:1900px;top:1744px">local</div>
</div>

<div id="drawer">
 <div class="abs" style="left:24px;top:27px;font-size:30.5px;line-height:38px;color:#262626;white-space:nowrap;-webkit-text-stroke:0.7px #262626">Request Details</div>
 <div class="abs btn" style="left:951px;top:26px;width:145px;height:42px;border-color:#4a7ef2;color:#3f77f2">
  <svg class="abs" style="left:16px;top:9px" width="23" height="23" viewBox="0 0 24 24"><path d="M17.65 6.35A7.958 7.958 0 0 0 12 4a8 8 0 1 0 7.73 10h-2.08A5.99 5.99 0 0 1 12 18a6 6 0 1 1 0-12c1.66 0 3.14.69 4.22 1.78L13 11h7V4l-2.35 2.35z" fill="#3f77f2"/></svg>
  <span class="abs" style="left:48.5px;top:1.2px;line-height:40px;letter-spacing:0.75px">RESEND</span></div>
 <div class="abs btn" style="left:1108px;top:26px;width:151px;height:42px;border-color:#4a7ef2;color:#3f77f2">
  <svg class="abs" style="left:20px;top:10px" width="20" height="20" viewBox="0 0 20 20" fill="none" stroke="#3f77f2" stroke-width="2.2"><path d="M8 2.5H2v15h15v-6"/><path d="M11 1.5h7.5V9M18.5 1.5L8.5 11.5"/></svg>
  <span class="abs" style="left:51px;top:1.2px;line-height:40px;letter-spacing:1.4px">DETAILS</span></div>
 <svg class="abs" style="left:1289px;top:37px" width="21" height="21" viewBox="0 0 21 21"><path d="M1 1L20 20M20 1L1 20" stroke="#555" stroke-width="2.6"/></svg>
 <div class="abs" style="left:0;top:97.5px;width:1350px;height:1.5px;background:#e3e3e3"></div>

 <div class="abs card" style="left:24px;top:123px;width:1302px;height:254px"></div>
 <div class="abs chip" style="left:49px;top:148px;width:84px;height:36px">POST</div>
 <div class="abs chip" style="left:151px;top:148px;width:70px;height:36px;border-color:#9e9e9e;color:#8c8c8c">N/A</div>
 <div class="abs info" style="left:49px;top:198px"><b>Path:</b> /</div>
 <div class="abs info" style="left:49px;top:240px"><b>Received:</b> Jan 6th 2026, 5:19:56 am</div>
 <div class="abs info" style="left:49px;top:282px"><b>Status:</b> received</div>
 <div class="abs info" style="left:49px;top:324px"><b>Client IP address:</b> 54.187.205.235</div>

 <div class="abs card" style="left:24px;top:401px;width:1302px;height:1400px"></div>
 <div class="abs" style="left:49px;top:434px;font-size:22.5px;line-height:26px;font-weight:bold;color:#222">Request</div>
 <div class="abs dtab" style="left:49px;top:515px;color:#3f77f2;letter-spacing:1.85px">SUMMARY</div>
 <div class="abs dtab" style="left:213px;top:515px">HEADERS</div>
 <div class="abs dtab" style="left:385px;top:515px">RAW</div>
 <div class="abs" style="left:25px;top:561px;width:164px;height:3.5px;background:#3f77f2"></div>
 <div class="abs" style="left:49px;top:588px;width:1252px;height:1300px;background:#f9f9f9;border-radius:8px"></div>
 <pre class="abs code" style="left:72.7px;top:608.5px"><i class="p">{</i>
    <i class="k">"id"</i><i class="o">:</i> <i class="s">"evt_1SmOwBLMIOAil5i30Xm3mvNd"</i><i class="p">,</i>
    <i class="k">"object"</i><i class="o">:</i> <i class="s">"event"</i><i class="p">,</i>
    <i class="k">"api_version"</i><i class="o">:</i> <i class="s">"2019-11-05"</i><i class="p">,</i>
    <i class="k">"created"</i><i class="o">:</i> <i class="n">1767662395</i><i class="p">,</i>
    <i class="k">"data"</i><i class="o">:</i> <i class="p">{</i>
        <i class="k">"object"</i><i class="o">:</i> <i class="p">{</i>
            <i class="k">"id"</i><i class="o">:</i> <i class="s">"in_1SmNy7LMIOAil5i3g8n6HNeK"</i><i class="p">,</i>
            <i class="k">"object"</i><i class="o">:</i> <i class="s">"invoice"</i><i class="p">,</i>
            <i class="k">"account_country"</i><i class="o">:</i> <i class="s">"GB"</i><i class="p">,</i>
            <i class="k">"account_name"</i><i class="o">:</i> <i class="s">"AppScension Ltd"</i><i class="p">,</i>
            <i class="k">"account_tax_ids"</i><i class="o">:</i> <i class="u">null</i><i class="p">,</i>
            <i class="k">"amount_due"</i><i class="o">:</i> <i class="n">0</i><i class="p">,</i>
            <i class="k">"amount_overpaid"</i><i class="o">:</i> <i class="n">0</i><i class="p">,</i>
            <i class="k">"amount_paid"</i><i class="o">:</i> <i class="n">0</i><i class="p">,</i>
            <i class="k">"amount_remaining"</i><i class="o">:</i> <i class="n">0</i><i class="p">,</i>
            <i class="k">"amount_shipping"</i><i class="o">:</i> <i class="n">0</i><i class="p">,</i>
            <i class="k">"application"</i><i class="o">:</i> <i class="u">null</i><i class="p">,</i>
            <i class="k">"attempt_count"</i><i class="o">:</i> <i class="n">0</i><i class="p">,</i>
            <i class="k">"attempted"</i><i class="o">:</i> <i class="n">true</i><i class="p">,</i>
            <i class="k">"auto_advance"</i><i class="o">:</i> <i class="n">false</i><i class="p">,</i>
            <i class="k">"automatic_tax"</i><i class="o">:</i> <i class="p">{</i>
                <i class="k">"disabled_reason"</i><i class="o">:</i> <i class="u">null</i><i class="p">,</i>
                <i class="k">"enabled"</i><i class="o">:</i> <i class="n">false</i><i class="p">,</i>
                <i class="k">"liability"</i><i class="o">:</i> <i class="u">null</i><i class="p">,</i>
                <i class="k">"provider"</i><i class="o">:</i> <i class="u">null</i><i class="p">,</i>
                <i class="k">"status"</i><i class="o">:</i> <i class="u">null</i>
            <i class="p">},</i>
            <i class="k">"automatically_finalizes_at"</i><i class="o">:</i> <i class="u">null</i><i class="p">,</i>
            <i class="k">"billing_reason"</i><i class="o">:</i> <i class="s">"subscription_cycle"</i><i class="p">,</i>
            <i class="k">"charge"</i><i class="o">:</i> <i class="u">null</i><i class="p">,</i>
            <i class="k">"collection_method"</i><i class="o">:</i> <i class="s">"charge_automatically"</i><i class="p">,</i>
            <i class="k">"created"</i><i class="o">:</i> <i class="n">1767658671</i><i class="p">,</i>
            <i class="k">"currency"</i><i class="o">:</i> <i class="s">"usd"</i><i class="p">,</i>
            <i class="k">"custom_fields"</i><i class="o">:</i> <i class="u">null</i><i class="p">,</i>
            <i class="k">"customer"</i><i class="o">:</i> <i class="s">"cus_TYFgGSBqgSrv5J"</i><i class="p">,</i>
            <i class="k">"customer_account"</i><i class="o">:</i> <i class="u">null</i><i class="p">,</i>
            <i class="k">"customer_address"</i><i class="o">:</i> <i class="u">null</i><i class="p">,</i>
            <i class="k">"customer_email"</i><i class="o">:</i> <i class="s">"6wc47fe7penuhe0f5shnpc@keel.sh"</i><i class="p">,</i>
            <i class="k">"customer_name"</i><i class="o">:</i> <i class="u">null</i><i class="p">,</i>
            <i class="k">"customer_phone"</i><i class="o">:</i> <i class="u">null</i><i class="p">,</i></pre>
 <svg class="abs" style="left:1245px;top:610px" width="30" height="35" viewBox="0 0 30 35" fill="none" stroke="#cfcfcf" stroke-width="3"><path d="M2 25V2h19"/><rect x="8.5" y="8.5" width="19" height="24" rx="2"/></svg>
</div>
<div id="fade"></div>
<div id="chat" class="abs" style="left:3330px;top:1646px;width:90px;height:90px;border-radius:50%;background:#4f83f2;box-shadow:0 2px 10px rgba(0,0,0,0.12)">
 <svg class="abs" style="left:22px;top:28px" width="46" height="38" viewBox="0 0 46 38"><path d="M2.2 5.5L42 1l2 26.5-14 1.9-6 6.8-4.8-5.2L4.4 33z" fill="#fff"/></svg></div>
<svg class="abs" style="left:0;top:1738px" width="6" height="18" viewBox="0 0 6 18"><path d="M0 0C0.6 8 1.8 14 4.5 18H0Z" fill="#000"/></svg>
<svg class="abs" style="left:3450px;top:1732px" width="6" height="24" viewBox="0 0 6 24"><path d="M6 0C5.4 10 4.2 18 1.5 24H6Z" fill="#000"/></svg>
</body></html>
